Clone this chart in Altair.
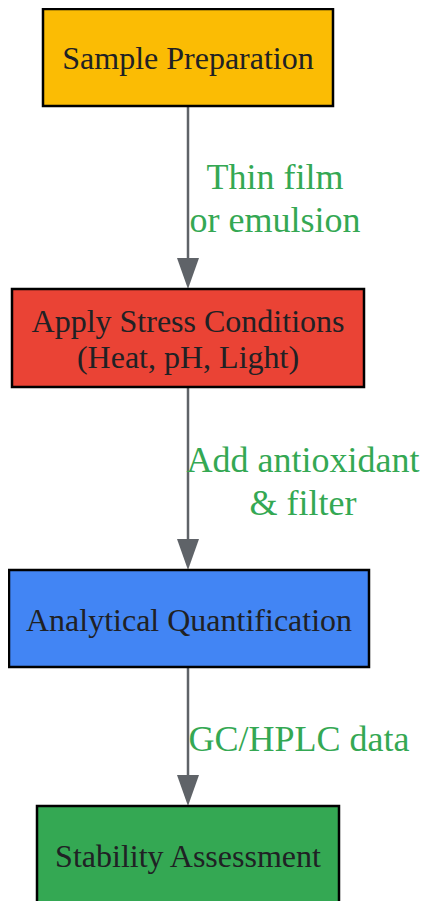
import altair as alt
import pandas as pd

# ---- diagram content ----
node_labels = ["Sample Preparation", "Apply Stress Conditions\n(Heat, pH, Light)",
               "Analytical Quantification", "Stability Assessment"]
node_colors = ["#fbbc04", "#ea4335", "#4285f4", "#34a853"]
# node box extents (layout units)
node_x1 = [43, 12, 9, 37]
node_x2 = [333, 364, 369, 339]
node_y1 = [9, 289, 570, 806]
node_y2 = [106, 387, 667, 903]
# first text line position inside each node
node_text_y = [59, 322, 621, 857]

edge_labels = ["Thin film\nor emulsion", "Add antioxidant\n& filter", "GC/HPLC data"]
edge_label_x = [275, 303, 299]
edge_label_y = [178, 461, 740]

AXIS_X = 188
W, H = 413, 900

nodes = pd.DataFrame({
    "label": node_labels, "color": node_colors,
    "x1": node_x1, "x2": node_x2, "y1": node_y1, "y2": node_y2,
    "ty": node_text_y,
})
nodes["cx"] = (nodes.x1 + nodes.x2) / 2

edges = pd.DataFrame({
    "label": edge_labels,
    "lx": edge_label_x, "ly": edge_label_y,
    "ystart": node_y2[:-1],
    "tip": node_y1[1:],
})
edges["x"] = AXIS_X
edges["head"] = edges.tip - 15.5
edges["lineend"] = edges.tip - 28

xs = alt.Scale(domain=[8, 8 + W])
ys = alt.Scale(domain=[8, 8 + H], reverse=True)
X = lambda f: alt.X(f, type="quantitative", scale=xs, axis=None)
Y = lambda f: alt.Y(f, type="quantitative", scale=ys, axis=None)

boxes = alt.Chart(nodes).mark_rect(stroke="#000000", strokeWidth=2.5).encode(
    x=X("x1"), x2="x2", y=Y("y1"), y2="y2",
    color=alt.Color("color:N", scale=None),
)
node_text = alt.Chart(nodes).mark_text(
    font="Liberation Serif", fontSize=32, color="#202124",
    align="center", baseline="middle", lineBreak="\n", lineHeight=36,
).encode(x=X("cx"), y=Y("ty"), text="label:N")

lines = alt.Chart(edges).mark_rule(color="#5f6368", strokeWidth=2.5).encode(
    x=X("x"), y=Y("ystart"), y2="lineend",
)
heads = alt.Chart(edges).mark_point(
    shape="M-0.71,-1L0.71,-1L0,1Z", filled=True, color="#5f6368",
    size=961, opacity=1, strokeWidth=0,
).encode(x=X("x"), y=Y("head"))
edge_text = alt.Chart(edges).mark_text(
    font="Liberation Serif", fontSize=36, color="#34a853",
    align="center", baseline="middle", lineBreak="\n", lineHeight=43,
).encode(x=X("lx"), y=Y("ly"), text="label:N")

chart = alt.layer(lines, heads, boxes, node_text, edge_text).properties(
    width=W, height=H, padding=0, autosize=alt.AutoSizeParams(type="none"),
).configure_view(stroke=None)

chart.save("out.html", embed_options={"renderer": "svg", "actions": False})
